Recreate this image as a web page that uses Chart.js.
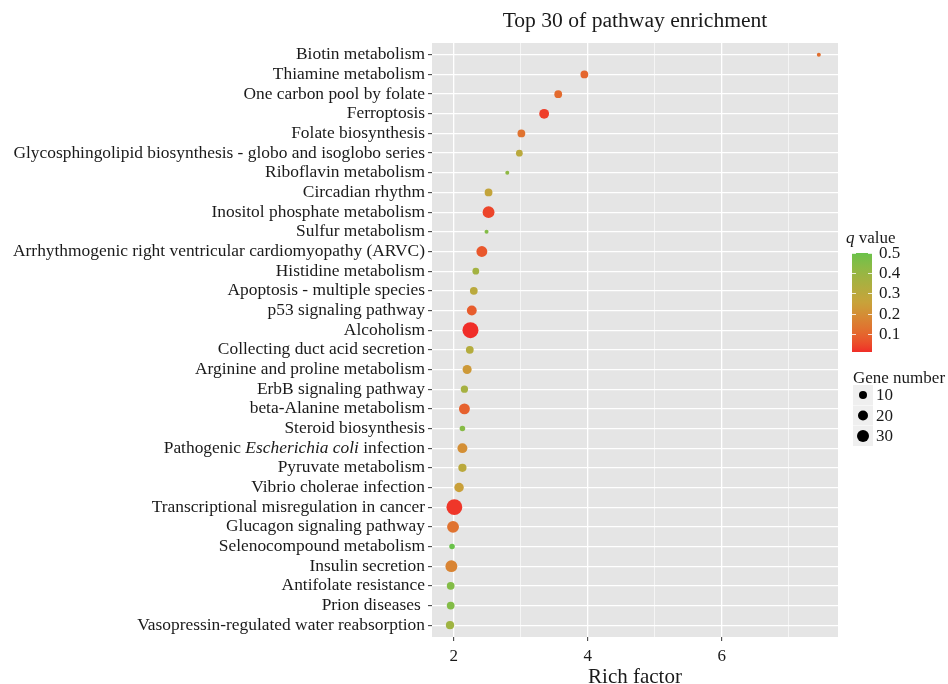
<!DOCTYPE html>
<html>
<head>
<meta charset="utf-8">
<script src="https://cdn.jsdelivr.net/npm/chart.js@4.4.0/dist/chart.umd.min.js"></script>
<style>
  html, body { margin: 0; padding: 0; background: #fff; }
  canvas { display: block; }
</style>
</head>
<body>
<canvas id="chart" width="948" height="684"></canvas>
<script>
// pathways, top to bottom
const pathways = [
  'Biotin metabolism',
  'Thiamine metabolism',
  'One carbon pool by folate',
  'Ferroptosis',
  'Folate biosynthesis',
  'Glycosphingolipid biosynthesis - globo and isoglobo series',
  'Riboflavin metabolism',
  'Circadian rhythm',
  'Inositol phosphate metabolism',
  'Sulfur metabolism',
  'Arrhythmogenic right ventricular cardiomyopathy (ARVC)',
  'Histidine metabolism',
  'Apoptosis - multiple species',
  'p53 signaling pathway',
  'Alcoholism',
  'Collecting duct acid secretion',
  'Arginine and proline metabolism',
  'ErbB signaling pathway',
  'beta-Alanine metabolism',
  'Steroid biosynthesis',
  'Pathogenic Escherichia coli infection',
  'Pyruvate metabolism',
  'Vibrio cholerae infection',
  'Transcriptional misregulation in cancer',
  'Glucagon signaling pathway',
  'Selenocompound metabolism',
  'Insulin secretion',
  'Antifolate resistance',
  'Prion diseases ',
  'Vasopressin-regulated water reabsorption'
];
const richFactor = [
  7.45, 3.95, 3.56, 3.35, 3.01, 2.98, 2.80, 2.52, 2.52, 2.49,
  2.42, 2.33, 2.30, 2.27, 2.25, 2.24, 2.20, 2.16, 2.16, 2.13,
  2.13, 2.13, 2.08, 2.01, 1.99, 1.975, 1.965, 1.955, 1.955, 1.945
];
const qValue = [
  0.12, 0.10, 0.11, 0.03, 0.13, 0.30, 0.42, 0.27, 0.04, 0.45,
  0.07, 0.37, 0.30, 0.08, 0.01, 0.32, 0.23, 0.36, 0.09, 0.44,
  0.20, 0.30, 0.25, 0.02, 0.13, 0.50, 0.17, 0.45, 0.45, 0.38
];
const geneNumber = [
  2, 8, 8, 13, 8, 6, 2, 8, 19, 2,
  16, 6, 8, 13, 35, 8, 11, 7, 16, 4,
  13, 9, 12, 34, 19, 4, 19, 8, 8, 9
];
const xTicks = [2, 3, 4, 5, 6, 7];
const qTicks = [0.1, 0.2, 0.3, 0.4, 0.5];
const geneTicks = [10, 20, 30];

const SERIF = "'Liberation Serif', 'DejaVu Serif', serif";
const TEXT = '#1a1a1a';
const LABEL_SIZE = 17.4;

// size scale, sqrt-rescaled like ggplot's scale_size
const gMin = Math.min(...geneNumber), gMax = Math.max(...geneNumber);
function radius(n) {
  return 2 + (Math.sqrt(n) - Math.sqrt(gMin)) / (Math.sqrt(gMax) - Math.sqrt(gMin)) * 6;
}

// colour ramp red -> gold -> green, interpolated in Lab
const qMin = Math.min(...qValue), qMax = Math.max(...qValue);
const RAMP = [[240, 45, 40], [200, 162, 58], [106, 194, 74]];
function toLin(c) { c /= 255; return c <= 0.04045 ? c / 12.92 : Math.pow((c + 0.055) / 1.055, 2.4); }
function fromLin(c) {
  c = c <= 0.0031308 ? 12.92 * c : 1.055 * Math.pow(c, 1 / 2.4) - 0.055;
  return Math.round(Math.max(0, Math.min(1, c)) * 255);
}
function rgbToLab(rgb) {
  const [r, g, b] = rgb.map(toLin);
  const f = t => t > 0.008856 ? Math.cbrt(t) : 7.787 * t + 16 / 116;
  const fx = f((0.4124 * r + 0.3576 * g + 0.1805 * b) / 0.95047);
  const fy = f(0.2126 * r + 0.7152 * g + 0.0722 * b);
  const fz = f((0.0193 * r + 0.1192 * g + 0.9505 * b) / 1.08883);
  return [116 * fy - 16, 500 * (fx - fy), 200 * (fy - fz)];
}
function labToRgb([L, a, b]) {
  const fy = (L + 16) / 116, fx = fy + a / 500, fz = fy - b / 200;
  const inv = t => t > 0.206893 ? t * t * t : (t - 16 / 116) / 7.787;
  const X = inv(fx) * 0.95047, Y = inv(fy), Z = inv(fz) * 1.08883;
  const r = 3.2406 * X - 1.5372 * Y - 0.4986 * Z;
  const g = -0.9689 * X + 1.8758 * Y + 0.0415 * Z;
  const bl = 0.0557 * X - 0.2040 * Y + 1.0570 * Z;
  return [fromLin(r), fromLin(g), fromLin(bl)];
}
const rampLab = RAMP.map(rgbToLab);
function qColor(q) {
  const t = Math.max(0, Math.min(1, (q - qMin) / (qMax - qMin))) * (rampLab.length - 1);
  const i = Math.min(rampLab.length - 2, Math.floor(t)), f = t - i;
  const lab = rampLab[i].map((v, k) => v + (rampLab[i + 1][k] - v) * f);
  const [r, g, b] = labToRgb(lab);
  return `rgb(${r},${g},${b})`;
}

const panelBg = {
  id: 'panelBg',
  beforeDraw(chart) {
    const { ctx, chartArea: a } = chart;
    ctx.save();
    ctx.fillStyle = '#E5E5E5';
    ctx.fillRect(a.left, a.top, a.right - a.left, a.bottom - a.top);
    ctx.restore();
  }
};

const extras = {
  id: 'extras',
  afterDraw(chart) {
    const { ctx, chartArea: a } = chart;
    const yScale = chart.scales.y;
    ctx.save();

    // title
    ctx.fillStyle = TEXT;
    ctx.font = `21.6px ${SERIF}`;
    ctx.textAlign = 'center';
    ctx.textBaseline = 'alphabetic';
    ctx.fillText('Top 30 of pathway enrichment', (a.left + a.right) / 2, 27);

    // the y label with an italic species name
    const idx = pathways.indexOf('Pathogenic Escherichia coli infection');
    const parts = [['Pathogenic ', ''], ['Escherichia coli', 'italic '], [' infection', '']];
    let x = yScale.right - 4 - 3;
    const y = yScale.getPixelForValue(idx);
    ctx.textAlign = 'right';
    ctx.textBaseline = 'middle';
    for (let i = parts.length - 1; i >= 0; i--) {
      ctx.font = `${parts[i][1]}${LABEL_SIZE}px ${SERIF}`;
      ctx.fillText(parts[i][0], x, y);
      x -= ctx.measureText(parts[i][0]).width;
    }

    // q value colour bar
    const barL = 852, barR = 872, barT = 253, barB = 352;
    ctx.textAlign = 'left';
    ctx.textBaseline = 'alphabetic';
    ctx.font = `italic 17px ${SERIF}`;
    ctx.fillText('q', 846, 243);
    const qw = ctx.measureText('q').width;
    ctx.font = `17px ${SERIF}`;
    ctx.fillText(' value', 846 + qw, 243);
    const grad = ctx.createLinearGradient(0, barB, 0, barT);
    for (let i = 0; i <= 20; i++) grad.addColorStop(i / 20, qColor(qMin + (qMax - qMin) * i / 20));
    ctx.fillStyle = grad;
    ctx.fillRect(barL, barT, barR - barL, barB - barT);
    ctx.strokeStyle = 'rgba(255,255,255,0.8)';
    ctx.lineWidth = 1;
    ctx.fillStyle = TEXT;
    ctx.textBaseline = 'middle';
    for (const q of qTicks) {
      const ty = Math.round(barB - (q - qMin) / (qMax - qMin) * (barB - barT)) + 0.5;
      ctx.beginPath();
      ctx.moveTo(barL, ty); ctx.lineTo(barL + 4, ty);
      ctx.moveTo(barR - 4, ty); ctx.lineTo(barR, ty);
      ctx.stroke();
      ctx.fillText(q.toFixed(1), 879, ty);
    }

    // gene number size legend
    ctx.textBaseline = 'alphabetic';
    ctx.fillText('Gene number', 853, 383);
    const keyR = [4, 5, 6];
    geneTicks.forEach((n, i) => {
      const cy = 395 + i * 20.5;
      ctx.fillStyle = '#EFEFEF';
      ctx.fillRect(853, cy - 10, 20, 20);
      ctx.fillStyle = '#000';
      ctx.beginPath();
      ctx.arc(863, cy, keyR[i], 0, Math.PI * 2);
      ctx.fill();
      ctx.fillStyle = TEXT;
      ctx.textBaseline = 'middle';
      ctx.fillText(String(n), 876, cy + 1);
    });
    ctx.restore();
  }
};

new Chart(document.getElementById('chart'), {
  type: 'bubble',
  data: {
    datasets: [{
      data: pathways.map((p, i) => ({ x: richFactor[i], y: i, r: radius(geneNumber[i]) })),
      backgroundColor: qValue.map(qColor),
      borderWidth: 0
    }]
  },
  options: {
    responsive: false,
    animation: false,
    events: [],
    devicePixelRatio: 1,
    layout: { padding: { left: 0, right: 110, top: 43, bottom: 0 } },
    plugins: { legend: { display: false }, tooltip: { enabled: false } },
    scales: {
      x: {
        type: 'linear',
        min: 1.676,
        max: 7.736,
        afterBuildTicks: s => { s.ticks = xTicks.map(v => ({ value: v })); },
        afterFit: s => { s.height = 47; },
        border: { display: false },
        grid: {
          color: '#FFFFFF',
          lineWidth: c => (c.tick && c.tick.value % 2 === 0) ? 1.3 : 0.6,
          tickColor: c => (c.tick && c.tick.value % 2 === 0) ? '#333333' : 'rgba(0,0,0,0)',
          tickLength: 4,
          tickWidth: 1
        },
        ticks: {
          autoSkip: false,
          maxRotation: 0,
          padding: 5,
          color: TEXT,
          font: { family: SERIF, size: 17 },
          callback: v => v % 2 === 0 ? String(v) : ''
        },
        title: {
          display: true,
          text: 'Rich factor',
          color: TEXT,
          font: { family: SERIF, size: 21, lineHeight: 0.6 },
          padding: { top: 0, bottom: 0 }
        }
      },
      y: {
        type: 'linear',
        min: -0.6,
        max: 29.6,
        reverse: true,
        afterBuildTicks: s => { s.ticks = pathways.map((p, i) => ({ value: i })); },
        afterFit: s => { s.width = 432; },
        border: { display: false },
        grid: {
          color: '#FFFFFF',
          lineWidth: 1.3,
          tickColor: '#333333',
          tickLength: 4,
          tickWidth: 1
        },
        ticks: {
          autoSkip: false,
          padding: 3,
          color: TEXT,
          font: { family: SERIF, size: LABEL_SIZE },
          callback: v => pathways[v].startsWith('Pathogenic') ? '' : pathways[v]
        }
      }
    }
  },
  plugins: [panelBg, extras]
});
</script>
</body>
</html>
